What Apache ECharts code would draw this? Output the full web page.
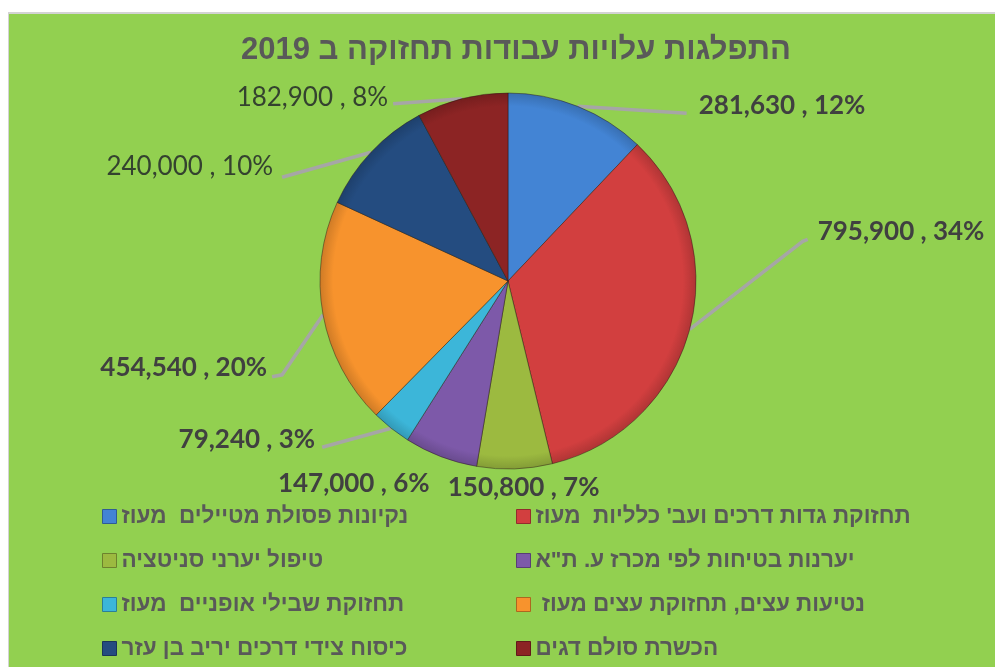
<!DOCTYPE html>
<html>
<head>
<meta charset="utf-8">
<script src="https://cdn.jsdelivr.net/npm/echarts@6/dist/echarts.min.js"></script>
<style>
  html, body { margin: 0; padding: 0; background: #ffffff; width: 995px; height: 667px; overflow: hidden; }
  #chart {
    position: absolute; left: 8px; top: 12px; width: 987px; height: 655px;
    box-sizing: border-box; border-top: 2px solid #d3d3d3; border-left: 1px solid #d3d3d3;
    background: #92d050;
  }
</style>
</head>
<body>
<div id="chart"></div>
<script>
// Maintenance work costs 2019, by work type
const titleText = 'התפלגות עלויות עבודות תחזוקה ב 2019';

const categories = [
  'נקיונות פסולת מטיילים  מעוז',
  'תחזוקת גדות דרכים ועב\' כלליות  מעוז',
  'טיפול יערני סניטציה',
  'יערנות בטיחות לפי מכרז ע. ת"א',
  'תחזוקת שבילי אופניים  מעוז',
  ' נטיעות עצים, תחזוקת עצים מעוז',
  'כיסוח צידי דרכים יריב בן עזר',
  'הכשרת סולם דגים'
];

const costs = [281630, 795900, 150800, 147000, 79240, 454540, 240000, 182900];

// slice fills
const sliceColors = ['#4384d4', '#d23f3f', '#9cba40', '#7d59a9', '#3cb6d9', '#f7932d', '#244c80', '#8c2424'];

// which value labels are set in bold
const boldLabel = [true, true, true, true, true, true, false, false];

// pie geometry inside the chart box
const pieCenter = [499, 267];
const pieRadius = 188;

// leader-line bends and label anchors, relative to each slice's outer mid point
const labelGuides = [
  { path: [[109, 7]],               text: [121, -1],  align: 'left' },
  { path: [[113, -88], [118, -90]], text: [128, -98], align: 'left' },
  { path: [],                       text: [9, 19],    align: 'center' },
  { path: [],                       text: [-87, 27],  align: 'center' },
  { path: [[-69, 19]],              text: [-76, 11],  align: 'right' },
  { path: [[-41, 60], [-51, 62]],   text: [-56, 53],  align: 'right' },
  { path: [[-89, 25]],              text: [-98, 14],  align: 'right' },
  { path: [[-69, 5]],               text: [-74, -1],  align: 'right' }
];

const total = costs.reduce((a, b) => a + b, 0);

// outer point of a slice at its mid angle (clockwise from 12 o'clock)
function edgePoint(i) {
  let before = 0;
  for (let k = 0; k < i; k++) before += costs[k];
  const mid = (before + costs[i] / 2) / total * 2 * Math.PI;
  return [pieCenter[0] + pieRadius * Math.sin(mid), pieCenter[1] - pieRadius * Math.cos(mid)];
}

// darken a hex colour by a factor
function shade(hex, f) {
  const n = parseInt(hex.slice(1), 16);
  const c = [(n >> 16) & 255, (n >> 8) & 255, n & 255].map(v => Math.round(v * (1 - f)));
  return 'rgb(' + c.join(',') + ')';
}

// bevelled fill: flat body with a darker rim towards the outer edge
function sliceFill(hex) {
  return {
    type: 'radial', x: pieCenter[0], y: pieCenter[1], r: pieRadius, global: true,
    colorStops: [
      { offset: 0, color: hex },
      { offset: 0.93, color: hex },
      { offset: 1, color: shade(hex, 0.16) }
    ]
  };
}

const chart = echarts.init(document.getElementById('chart'), null, { renderer: 'canvas' });

const legendText = {
  fontFamily: 'Liberation Sans, DejaVu Sans, sans-serif',
  fontWeight: 'bold',
  fontSize: 22.5,
  color: '#595959'
};

function legendFor(indices, left) {
  return {
    orient: 'vertical',
    left: left,
    top: 491,
    padding: 0,
    icon: 'rect',
    itemWidth: 14,
    itemHeight: 14,
    itemGap: 21,
    selectedMode: false,
    textStyle: legendText,
    data: indices.map(i => ({
      name: categories[i],
      itemStyle: { color: sliceColors[i], borderColor: shade(sliceColors[i], 0.3), borderWidth: 1 }
    }))
  };
}

chart.setOption({
  animation: false,
  title: {
    text: titleText,
    left: 502,
    top: 16,
    textAlign: 'center',
    textStyle: {
      fontFamily: 'Liberation Sans, DejaVu Sans, sans-serif',
      fontWeight: 'bold',
      fontSize: 31,
      color: '#595959'
    }
  },
  legend: [legendFor([0, 2, 4, 6], 93), legendFor([1, 3, 5, 7], 507)],
  series: [{
    type: 'pie',
    center: pieCenter,
    radius: pieRadius,
    startAngle: 90,
    clockwise: true,
    percentPrecision: 0,
    avoidLabelOverlap: false,
    emphasis: { disabled: true },
    itemStyle: {
      borderColor: 'rgba(40,20,20,0.45)',
      borderWidth: 1
    },
    label: {
      show: true,
      position: 'outside',
      fontFamily: 'Lato, Open Sans, sans-serif',
      fontSize: 26,
      color: '#404040',
      formatter: p => p.value.toLocaleString('en-US') + ' , ' + p.percent + '%'
    },
    labelLine: {
      show: true,
      smooth: false,
      lineStyle: { color: '#a6a6a6', width: 3.5 }
    },
    labelLayout: function (p) {
      const i = p.dataIndex;
      const e = edgePoint(i);
      const g = labelGuides[i];
      const out = {
        x: e[0] + g.text[0],
        y: e[1] + g.text[1],
        align: g.align,
        verticalAlign: 'middle'
      };
      if (g.path.length) {
        out.labelLinePoints = [e].concat(g.path.map(d => [e[0] + d[0], e[1] + d[1]]));
      }
      return out;
    },
    data: categories.map((name, i) => ({
      name: name,
      value: costs[i],
      itemStyle: { color: sliceFill(sliceColors[i]) },
      label: {
        fontWeight: boldLabel[i] ? 'bold' : 'normal',
        color: boldLabel[i] ? '#404040' : '#34422f'
      },
      labelLine: { show: labelGuides[i].path.length > 0 }
    }))
  }]
});
</script>
</body>
</html>
